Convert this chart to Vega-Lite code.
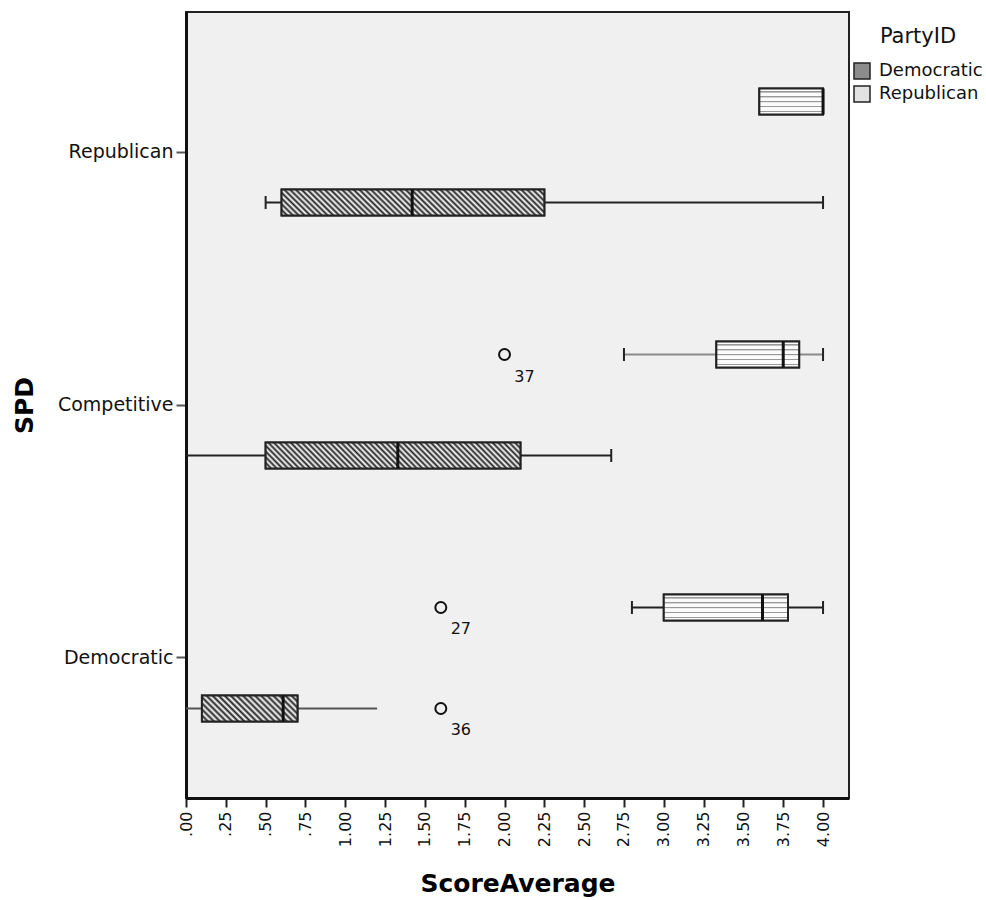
{
  "$schema": "https://vega.github.io/schema/vega-lite/v6.json",
  "width": 663,
  "height": 786,
  "autosize": {"type": "none"},
  "padding": {"left": 186, "top": 12, "right": 137, "bottom": 102},
  "background": "white",
  "config": {
    "view": {"fill": "#f0f0f0", "stroke": "#222", "strokeWidth": 2},
    "font": "DejaVu Sans"
  },
  "datasets": {
    "boxes": [
      {"SPD": "Republican", "Party": "Democratic", "lo": 0.5, "q1": 0.6, "med": 1.42, "q3": 2.25, "hi": 4.0},
      {"SPD": "Republican", "Party": "Republican", "lo": 3.6, "q1": 3.6, "med": 4.0, "q3": 4.0, "hi": 4.0},
      {"SPD": "Competitive", "Party": "Democratic", "lo": 0, "q1": 0.5, "med": 1.33, "q3": 2.1, "hi": 2.67},
      {"SPD": "Competitive", "Party": "Republican", "lo": 2.75, "q1": 3.33, "med": 3.75, "q3": 3.85, "hi": 4.0},
      {"SPD": "Democratic", "Party": "Democratic", "lo": 0, "q1": 0.1, "med": 0.61, "q3": 0.7, "hi": 1.2},
      {"SPD": "Democratic", "Party": "Republican", "lo": 2.8, "q1": 3.0, "med": 3.62, "q3": 3.78, "hi": 4.0}
    ],
    "caps": [
      {"SPD": "Republican", "Party": "Democratic", "v": 0.5},
      {"SPD": "Republican", "Party": "Democratic", "v": 4.0},
      {"SPD": "Competitive", "Party": "Democratic", "v": 2.67},
      {"SPD": "Competitive", "Party": "Republican", "v": 2.75},
      {"SPD": "Competitive", "Party": "Republican", "v": 4.0},
      {"SPD": "Democratic", "Party": "Republican", "v": 2.8},
      {"SPD": "Democratic", "Party": "Republican", "v": 4.0}
    ],
    "outliers": [
      {"SPD": "Competitive", "Party": "Republican", "v": 2.0, "case": "37"},
      {"SPD": "Democratic", "Party": "Republican", "v": 1.6, "case": "27"},
      {"SPD": "Democratic", "Party": "Democratic", "v": 1.6, "case": "36"}
    ]
  },
  "encoding": {
    "y": {
      "field": "SPD", "type": "nominal",
      "scale": {"domain": ["Republican", "Competitive", "Democratic"], "paddingInner": 0, "paddingOuter": 0.0534},
      "axis": {
        "title": "SPD", "labelFontSize": 19, "labelColor": "#111", "labelPadding": 3,
        "tickSize": 10, "tickWidth": 2, "tickColor": "#555",
        "domainColor": "#111", "domainWidth": 3,
        "titleFontSize": 25, "titleFontWeight": "bold", "titleColor": "#000", "titlePadding": 20
      }
    },
    "yOffset": {
      "field": "Party", "type": "nominal",
      "scale": {"domain": ["Republican", "Democratic"], "paddingInner": 0.7426, "paddingOuter": 0.6238}
    }
  },
  "layer": [
    {
      "data": {"name": "boxes"},
      "mark": {"type": "rule", "strokeWidth": 2},
      "encoding": {
        "x": {
          "field": "lo", "type": "quantitative",
          "scale": {"domain": [0, 4.163], "nice": false, "zero": false},
          "axis": {
            "title": "ScoreAverage",
            "values": [0, 0.25, 0.5, 0.75, 1, 1.25, 1.5, 1.75, 2, 2.25, 2.5, 2.75, 3, 3.25, 3.5, 3.75, 4],
            "labelExpr": "datum.value < 1 ? substring(format(datum.value, '.2f'), 1) : format(datum.value, '.2f')",
            "labelAngle": 270, "labelFontSize": 16, "labelColor": "#111", "labelPadding": 4,
            "tickSize": 9, "tickWidth": 2, "tickColor": "#222",
            "domainColor": "#111", "domainWidth": 3, "grid": false,
            "titleFontSize": 25, "titleFontWeight": "bold", "titleColor": "#000", "titlePadding": 25
          }
        },
        "x2": {"field": "hi"},
        "stroke": {
          "condition": [
            {"test": "datum.SPD === 'Competitive' && datum.Party === 'Republican'", "value": "#8a8a8a"},
            {"test": "datum.SPD === 'Democratic' && datum.Party === 'Democratic'", "value": "#555"}
          ],
          "value": "#222"
        }
      }
    },
    {
      "data": {"name": "boxes"},
      "mark": {"type": "bar", "strokeWidth": 2, "stroke": "#222", "opacity": 1},
      "encoding": {
        "x": {"field": "q1", "type": "quantitative", "scale": {"domain": [0, 4.163], "nice": false, "zero": false}},
        "x2": {"field": "q3"},
        "fill": {
          "field": "Party", "type": "nominal",
          "scale": {"domain": ["Democratic", "Republican"], "range": ["#8c8c8c", "#e2e2e2"]},
          "legend": {
            "title": "PartyID", "orient": "none", "legendX": 667, "legendY": 14, "padding": 0,
            "titleAnchor": "middle",
            "symbolType": "square", "symbolSize": 256, "symbolStrokeWidth": 1.5, "symbolStrokeColor": "#222", "symbolOpacity": 1,
            "labelFontSize": 18, "labelColor": "#111", "labelOffset": 8, "labelFont": "DejaVu Sans",
            "titleFontSize": 21, "titleFontWeight": "normal", "titleColor": "#111", "titleFont": "DejaVu Sans",
            "titlePadding": 15, "rowPadding": 1
          }
        }
      }
    },
    {
      "data": {"name": "boxes"},
      "transform": [{"filter": "datum.Party === 'Republican'"}],
      "mark": {
        "type": "bar", "strokeWidth": 2, "stroke": "#222",
        "fill": {"gradient": "linear", "x1": 0, "y1": 0, "x2": 0, "y2": 1, "stops": [
          {"offset": 0, "color": "#fbfbfb"}, {"offset": 0.09, "color": "#fbfbfb"},
          {"offset": 0.1, "color": "#999"}, {"offset": 0.15, "color": "#999"},
          {"offset": 0.16, "color": "#fbfbfb"}, {"offset": 0.28, "color": "#fbfbfb"},
          {"offset": 0.29, "color": "#999"}, {"offset": 0.34, "color": "#999"},
          {"offset": 0.35, "color": "#fbfbfb"}, {"offset": 0.47, "color": "#fbfbfb"},
          {"offset": 0.48, "color": "#999"}, {"offset": 0.53, "color": "#999"},
          {"offset": 0.54, "color": "#fbfbfb"}, {"offset": 0.66, "color": "#fbfbfb"},
          {"offset": 0.67, "color": "#999"}, {"offset": 0.72, "color": "#999"},
          {"offset": 0.73, "color": "#fbfbfb"}, {"offset": 0.85, "color": "#fbfbfb"},
          {"offset": 0.86, "color": "#999"}, {"offset": 0.91, "color": "#999"},
          {"offset": 0.92, "color": "#fbfbfb"}, {"offset": 1, "color": "#fbfbfb"}
        ]}
      },
      "encoding": {
        "x": {"field": "q1", "type": "quantitative", "scale": {"domain": [0, 4.163], "nice": false, "zero": false}},
        "x2": {"field": "q3"}
      }
    },
    {
      "data": {"name": "boxes"},
      "transform": [{"filter": "datum.Party === 'Democratic' && datum.SPD !== 'Democratic'"}],
      "mark": {
        "type": "bar", "strokeWidth": 2, "stroke": "#222",
        "fill": {"gradient": "linear", "x1": 0, "y1": 1, "x2": 1.089, "y2": 0.891, "stops": [
          {"offset": 0, "color": "#222"}, {"offset": 0.01, "color": "#fff"}, {"offset": 0.02, "color": "#222"}, {"offset": 0.03, "color": "#fff"},
          {"offset": 0.04, "color": "#222"}, {"offset": 0.05, "color": "#fff"}, {"offset": 0.06, "color": "#222"}, {"offset": 0.07, "color": "#fff"},
          {"offset": 0.08, "color": "#222"}, {"offset": 0.09, "color": "#fff"}, {"offset": 0.1, "color": "#222"}, {"offset": 0.11, "color": "#fff"},
          {"offset": 0.12, "color": "#222"}, {"offset": 0.13, "color": "#fff"}, {"offset": 0.14, "color": "#222"}, {"offset": 0.15, "color": "#fff"},
          {"offset": 0.16, "color": "#222"}, {"offset": 0.17, "color": "#fff"}, {"offset": 0.18, "color": "#222"}, {"offset": 0.19, "color": "#fff"},
          {"offset": 0.2, "color": "#222"}, {"offset": 0.21, "color": "#fff"}, {"offset": 0.22, "color": "#222"}, {"offset": 0.23, "color": "#fff"},
          {"offset": 0.24, "color": "#222"}, {"offset": 0.25, "color": "#fff"}, {"offset": 0.26, "color": "#222"}, {"offset": 0.27, "color": "#fff"},
          {"offset": 0.28, "color": "#222"}, {"offset": 0.29, "color": "#fff"}, {"offset": 0.3, "color": "#222"}, {"offset": 0.31, "color": "#fff"},
          {"offset": 0.32, "color": "#222"}, {"offset": 0.33, "color": "#fff"}, {"offset": 0.34, "color": "#222"}, {"offset": 0.35, "color": "#fff"},
          {"offset": 0.36, "color": "#222"}, {"offset": 0.37, "color": "#fff"}, {"offset": 0.38, "color": "#222"}, {"offset": 0.39, "color": "#fff"},
          {"offset": 0.4, "color": "#222"}, {"offset": 0.41, "color": "#fff"}, {"offset": 0.42, "color": "#222"}, {"offset": 0.43, "color": "#fff"},
          {"offset": 0.44, "color": "#222"}, {"offset": 0.45, "color": "#fff"}, {"offset": 0.46, "color": "#222"}, {"offset": 0.47, "color": "#fff"},
          {"offset": 0.48, "color": "#222"}, {"offset": 0.49, "color": "#fff"}, {"offset": 0.5, "color": "#222"}, {"offset": 0.51, "color": "#fff"},
          {"offset": 0.52, "color": "#222"}, {"offset": 0.53, "color": "#fff"}, {"offset": 0.54, "color": "#222"}, {"offset": 0.55, "color": "#fff"},
          {"offset": 0.56, "color": "#222"}, {"offset": 0.57, "color": "#fff"}, {"offset": 0.58, "color": "#222"}, {"offset": 0.59, "color": "#fff"},
          {"offset": 0.6, "color": "#222"}, {"offset": 0.61, "color": "#fff"}, {"offset": 0.62, "color": "#222"}, {"offset": 0.63, "color": "#fff"},
          {"offset": 0.64, "color": "#222"}, {"offset": 0.65, "color": "#fff"}, {"offset": 0.66, "color": "#222"}, {"offset": 0.67, "color": "#fff"},
          {"offset": 0.68, "color": "#222"}, {"offset": 0.69, "color": "#fff"}, {"offset": 0.7, "color": "#222"}, {"offset": 0.71, "color": "#fff"},
          {"offset": 0.72, "color": "#222"}, {"offset": 0.73, "color": "#fff"}, {"offset": 0.74, "color": "#222"}, {"offset": 0.75, "color": "#fff"},
          {"offset": 0.76, "color": "#222"}, {"offset": 0.77, "color": "#fff"}, {"offset": 0.78, "color": "#222"}, {"offset": 0.79, "color": "#fff"},
          {"offset": 0.8, "color": "#222"}, {"offset": 0.81, "color": "#fff"}, {"offset": 0.82, "color": "#222"}, {"offset": 0.83, "color": "#fff"},
          {"offset": 0.84, "color": "#222"}, {"offset": 0.85, "color": "#fff"}, {"offset": 0.86, "color": "#222"}, {"offset": 0.87, "color": "#fff"},
          {"offset": 0.88, "color": "#222"}, {"offset": 0.89, "color": "#fff"}, {"offset": 0.9, "color": "#222"}, {"offset": 0.91, "color": "#fff"},
          {"offset": 0.92, "color": "#222"}, {"offset": 0.93, "color": "#fff"}, {"offset": 0.94, "color": "#222"}, {"offset": 0.95, "color": "#fff"},
          {"offset": 0.96, "color": "#222"}, {"offset": 0.97, "color": "#fff"}, {"offset": 0.98, "color": "#222"}, {"offset": 0.99, "color": "#fff"},
          {"offset": 1, "color": "#222"}
        ]}
      },
      "encoding": {
        "x": {"field": "q1", "type": "quantitative", "scale": {"domain": [0, 4.163], "nice": false, "zero": false}},
        "x2": {"field": "q3"}
      }
    },
    {
      "data": {"name": "boxes"},
      "transform": [{"filter": "datum.Party === 'Democratic' && datum.SPD === 'Democratic'"}],
      "mark": {
        "type": "bar", "strokeWidth": 2, "stroke": "#222",
        "fill": {"gradient": "linear", "x1": 0, "y1": 1, "x2": 1.184, "y2": 0.678, "stops": [
          {"offset": 0, "color": "#222"}, {"offset": 0.025, "color": "#fff"}, {"offset": 0.05, "color": "#222"}, {"offset": 0.075, "color": "#fff"},
          {"offset": 0.1, "color": "#222"}, {"offset": 0.125, "color": "#fff"}, {"offset": 0.15, "color": "#222"}, {"offset": 0.175, "color": "#fff"},
          {"offset": 0.2, "color": "#222"}, {"offset": 0.225, "color": "#fff"}, {"offset": 0.25, "color": "#222"}, {"offset": 0.275, "color": "#fff"},
          {"offset": 0.3, "color": "#222"}, {"offset": 0.325, "color": "#fff"}, {"offset": 0.35, "color": "#222"}, {"offset": 0.375, "color": "#fff"},
          {"offset": 0.4, "color": "#222"}, {"offset": 0.425, "color": "#fff"}, {"offset": 0.45, "color": "#222"}, {"offset": 0.475, "color": "#fff"},
          {"offset": 0.5, "color": "#222"}, {"offset": 0.525, "color": "#fff"}, {"offset": 0.55, "color": "#222"}, {"offset": 0.575, "color": "#fff"},
          {"offset": 0.6, "color": "#222"}, {"offset": 0.625, "color": "#fff"}, {"offset": 0.65, "color": "#222"}, {"offset": 0.675, "color": "#fff"},
          {"offset": 0.7, "color": "#222"}, {"offset": 0.725, "color": "#fff"}, {"offset": 0.75, "color": "#222"}, {"offset": 0.775, "color": "#fff"},
          {"offset": 0.8, "color": "#222"}, {"offset": 0.825, "color": "#fff"}, {"offset": 0.85, "color": "#222"}, {"offset": 0.875, "color": "#fff"},
          {"offset": 0.9, "color": "#222"}, {"offset": 0.925, "color": "#fff"}, {"offset": 0.95, "color": "#222"}, {"offset": 0.975, "color": "#fff"},
          {"offset": 1, "color": "#222"}
        ]}
      },
      "encoding": {
        "x": {"field": "q1", "type": "quantitative", "scale": {"domain": [0, 4.163], "nice": false, "zero": false}},
        "x2": {"field": "q3"}
      }
    },
    {
      "data": {"name": "boxes"},
      "mark": {"type": "tick", "size": 26, "thickness": 3, "color": "#111", "opacity": 1},
      "encoding": {
        "x": {"field": "med", "type": "quantitative", "scale": {"domain": [0, 4.163], "nice": false, "zero": false}}
      }
    },
    {
      "data": {"name": "caps"},
      "mark": {"type": "tick", "size": 13, "thickness": 2, "color": "#222", "opacity": 1},
      "encoding": {
        "x": {"field": "v", "type": "quantitative", "scale": {"domain": [0, 4.163], "nice": false, "zero": false}}
      }
    },
    {
      "data": {"name": "outliers"},
      "mark": {"type": "point", "shape": "circle", "filled": false, "size": 120, "stroke": "#111", "strokeWidth": 2, "opacity": 1},
      "encoding": {
        "x": {"field": "v", "type": "quantitative", "scale": {"domain": [0, 4.163], "nice": false, "zero": false}}
      }
    },
    {
      "data": {"name": "outliers"},
      "mark": {"type": "text", "dx": 20, "dy": 22, "align": "center", "baseline": "middle", "fontSize": 16, "color": "#111", "font": "DejaVu Sans"},
      "encoding": {
        "x": {"field": "v", "type": "quantitative", "scale": {"domain": [0, 4.163], "nice": false, "zero": false}},
        "text": {"field": "case"}
      }
    }
  ]
}
